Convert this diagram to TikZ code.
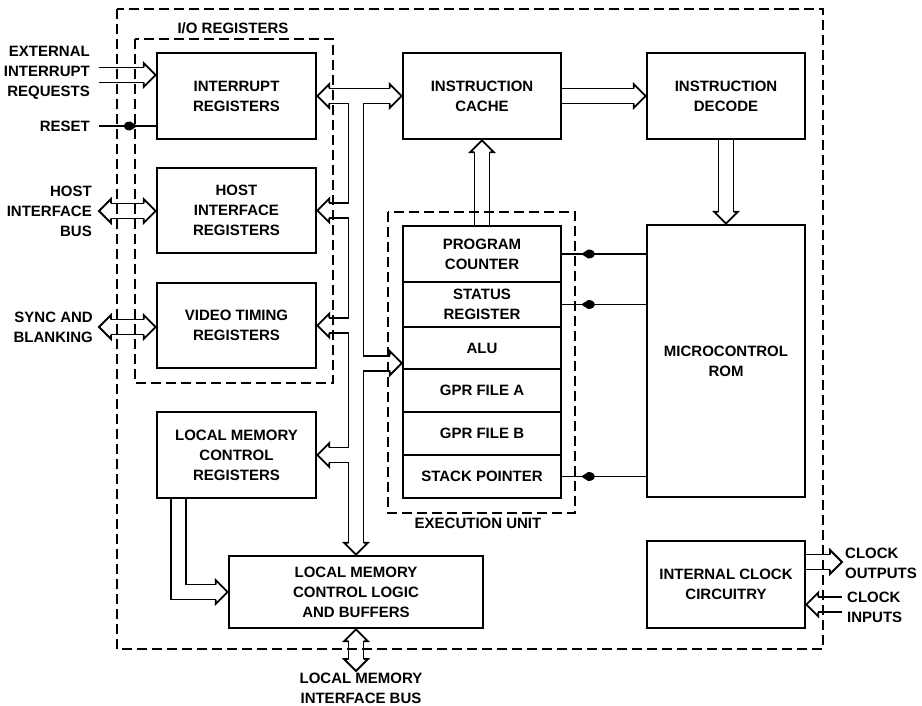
\documentclass[tikz,border=0pt]{standalone}
\usepackage{fontspec}
\setmainfont{Liberation Sans}
\usetikzlibrary{arrows.meta,calc,decorations.markings}

\begin{document}
\begin{tikzpicture}[x=1pt, y=-1pt,
    txt/.style={font=\fontsize{15}{20}\selectfont\bfseries, align=center, inner sep=0pt},
    block/.style={txt, draw, line width=2.6pt, minimum width=159pt, minimum height=86pt},
    cell/.style={txt, draw, line width=2.4pt, minimum width=158pt},
    frame/.style={line width=1.5pt, dash pattern=on 10pt off 5pt},
    bus/.style={draw, line width=1.8pt, double, double distance=13.2pt, line join=miter},
    wire/.style={line width=1.8pt, decoration={markings,
        mark=at position #1 with {\fill (1,0) -- (-6,4.5) .. controls (-15,4.5) and (-15,-4.5) .. (-6,-4.5) -- cycle;}},
        postaction={decorate}},
    pics/head/.style={code={
        \draw[line width=1.8pt, line join=miter] (-12,7.5) -- (-12,12) -- (0,0) -- (-12,-12) -- (-12,-7.5);}}
]
    \useasboundingbox (0,0) rectangle (922,706);

    % I/O registers
    \node[block] (intreg) at (236.5,96) {INTERRUPT\\REGISTERS};
    \node[block, minimum height=85pt] (hostreg) at (236.5,210.5) {HOST\\INTERFACE\\REGISTERS};
    \node[block, minimum height=85pt] (vidreg) at (236.5,325.5) {VIDEO TIMING\\REGISTERS};
    \node[block] (lmcreg) at (236.5,455) {LOCAL MEMORY\\CONTROL\\REGISTERS};

    % Instruction path
    \node[block, minimum width=158pt] (icache) at (482,96) {INSTRUCTION\\CACHE};
    \node[block, minimum width=158pt] (idecode) at (726,96) {INSTRUCTION\\DECODE};
    \node[block, minimum width=158pt, minimum height=272pt] (urom) at (726,361) {MICROCONTROL\\ROM};
    \node[block, minimum width=158pt, minimum height=87pt] (clock) at (726,584.5) {INTERNAL CLOCK\\CIRCUITRY};
    \node[block, minimum width=254pt, minimum height=72pt] (lmlogic) at (356,592) {LOCAL MEMORY\\CONTROL LOGIC\\AND BUFFERS};

    % Execution unit
    \node[cell, minimum height=56pt] (pc) at (482,254) {PROGRAM\\COUNTER};
    \node[cell, minimum height=45pt] (sr) at (482,304.5) {STATUS\\REGISTER};
    \node[cell, minimum height=42pt] (alu) at (482,348) {ALU};
    \node[cell, minimum height=43pt] (gpra) at (482,390.5) {GPR FILE A};
    \node[cell, minimum height=43pt] (gprb) at (482,433.5) {GPR FILE B};
    \node[cell, minimum height=43pt] (sp) at (482,476.5) {STACK POINTER};

    % Outside labels
    \node[txt, align=right, anchor=east] (extlbl) at (90,73) {EXTERNAL\\INTERRUPT\\REQUESTS};
    \node[txt, anchor=east] (rstlbl) at (90,126) {RESET};
    \node[txt, align=right, anchor=east] (hostlbl) at (92,211) {HOST\\INTERFACE\\BUS};
    \node[txt, align=right, anchor=east] (synclbl) at (93,327) {SYNC AND\\BLANKING};
    \node[txt, align=left, anchor=west] (ckoutlbl) at (845,563) {CLOCK\\OUTPUTS};
    \node[txt, align=left, anchor=west] (ckinlbl) at (847,607) {CLOCK\\INPUTS};
    \node[txt] (lmbuslbl) at (361,688) {LOCAL MEMORY\\INTERFACE BUS};
    \node[txt] (iolbl) at (233,28) {I/O REGISTERS};
    \node[txt] (exlbl) at (478,523) {EXECUTION UNIT};

    % Free ends and junctions
    \coordinate (extend) at (99,75);
    \coordinate (rstend) at (99,126);
    \coordinate (hostend) at (99,211);
    \coordinate (syncend) at (99,327);
    \coordinate (lmend) at (356,671);
    \coordinate (ckout) at (842,562);
    \coordinate (ckin) at (842,604.5);
    \coordinate (trunk) at (356,96);
    \coordinate (aluin) at ($(alu.south west)+(0,-7)$);

    % Internal bus tree
    \draw[bus] ($(intreg.east)+(12,0)$) -- ($(icache.west)+(-12,0)$)
        (trunk) -- ($(lmlogic.north)+(0,-12)$)
        (trunk |- hostreg.east) -- ($(hostreg.east)+(12,0)$)
        (trunk |- vidreg.east) -- ($(vidreg.east)+(12,0)$)
        (trunk |- lmcreg.east) -- ($(lmcreg.east)+(12,0)$)
        (trunk |- aluin) -- ($(aluin)+(-12,0)$);
    \pic[rotate=180] at (intreg.east) {head};
    \pic at (icache.west) {head};
    \pic[rotate=180] at (hostreg.east) {head};
    \pic[rotate=180] at (vidreg.east) {head};
    \pic[rotate=180] at (lmcreg.east) {head};
    \pic at (aluin) {head};
    \pic[rotate=-90] at (lmlogic.north) {head};

    % Instruction buses
    \draw[bus] (icache.east) -- ($(idecode.west)+(-12,0)$);
    \pic at (idecode.west) {head};
    \draw[bus] (idecode.south) -- ($(urom.north)+(0,-12)$);
    \pic[rotate=-90] at (urom.north) {head};
    \draw[bus] (pc.north) -- ($(icache.south)+(0,12)$);
    \pic[rotate=90] at (icache.south) {head};

    % Local memory buses
    \draw[bus] ($(lmcreg.south west)+(22.5,0)$) |- ($(lmlogic.west)+(-12,0)$);
    \pic at (lmlogic.west) {head};
    \draw[bus] ($(lmlogic.south)+(0,12)$) -- ($(lmend)+(0,-12)$);
    \pic[rotate=90] at (lmlogic.south) {head};
    \pic[rotate=-90] at (lmend) {head};

    % External buses
    \draw[bus] (extend) -- ($(extend -| intreg.west)+(-12,0)$);
    \pic at (extend -| intreg.west) {head};
    \draw[bus] ($(hostend)+(12,0)$) -- ($(hostend -| hostreg.west)+(-12,0)$);
    \pic[rotate=180] at (hostend) {head};
    \pic at (hostend -| hostreg.west) {head};
    \draw[bus] ($(syncend)+(12,0)$) -- ($(syncend -| vidreg.west)+(-12,0)$);
    \pic[rotate=180] at (syncend) {head};
    \pic at (syncend -| vidreg.west) {head};

    % Clock buses
    \draw[bus] (ckout -| clock.east) -- ($(ckout)+(-12,0)$);
    \pic at (ckout) {head};
    \draw[bus] (ckin) -- ($(ckin -| clock.east)+(12,0)$);
    \pic[rotate=180] at (ckin -| clock.east) {head};

    % Control lines
    \draw[wire=0.66] (rstend) -- (rstend -| intreg.west);
    \draw[wire=0.76] (pc.east -| urom.west) -- (pc.east);
    \draw[wire=0.76] (sr.east -| urom.west) -- (sr.east);
    \draw[wire=0.76] (sp.east -| urom.west) -- (sp.east);

    % Dashed frames
    \draw[frame] (117,9) rectangle (823,649);
    \draw[frame] (135,39) rectangle (333,383);
    \draw[frame] (388,212) rectangle (575,513);
\end{tikzpicture}
\end{document}
